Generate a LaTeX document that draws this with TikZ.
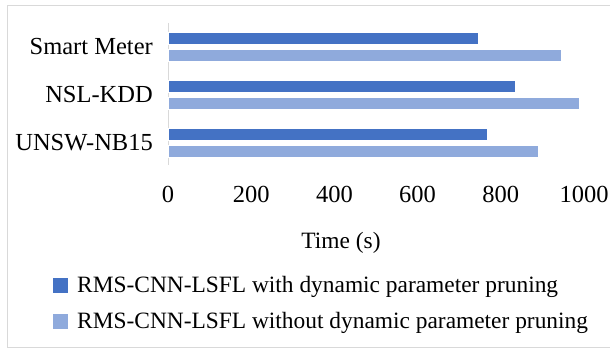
\documentclass[tikz,border=0pt]{standalone}
\usepackage{fontspec}
\setmainfont{Liberation Serif}
\definecolor{darkbar}{HTML}{4472C4}
\definecolor{lightbar}{HTML}{8FAADC}
\definecolor{framegray}{HTML}{D9D9D9}
\begin{document}
\begin{tikzpicture}[x=1pt,y=-1pt,
  lbl/.style={font=\fontsize{23.4}{27}\selectfont, inner sep=0pt},
  biglbl/.style={font=\fontsize{24.5}{28}\selectfont, inner sep=0pt},
  dbar/.style={fill=darkbar, draw=white, line width=0.6pt},
  lbar/.style={fill=lightbar, draw=white, line width=0.6pt}]
\useasboundingbox (0,0) rectangle (610,352);
\fill[white] (0,0) rectangle (610,352);
\draw[framegray, line width=1pt] (620,6) -- (7,6) -- (7,347) -- (620,347);
% axis
\draw[framegray, line width=1pt] (168,23) -- (168,165);
% bars (scale 0.416 px per unit)
\def\sc{0.416}
\foreach \yc/\dv/\lv in {46.5/745/945, 94.5/834/988, 142.5/767/889}{
  \path[dbar] (168,\yc-14.5) rectangle ({168+\dv*\sc},\yc-2.5);
  \path[lbar] (168,\yc+2.5) rectangle ({168+\lv*\sc},\yc+14.5);
}
% category labels
\node[biglbl, anchor=east] (c1) at (153,46.5) {Smart Meter};
\node[biglbl, anchor=east] (c2) at (153,94.5) {NSL-KDD};
\node[biglbl, anchor=east] (c3) at (153,142.5) {UNSW-NB15};
% ticks
\foreach \v in {0,200,400,600,800,1000}{
  \node[biglbl, anchor=base] (t\v) at ({168+\v*\sc},203) {\v};
}
\node[lbl, anchor=base] (xl) at (341,249) {Time (s)};
% legend
\fill[darkbar] (53,278) rectangle (68,293);
\fill[lightbar] (53,314) rectangle (68,329);
\node[lbl, anchor=base west] (l1) at (77,293) {RMS-CNN-LSFL with dynamic parameter pruning};
\node[lbl, anchor=base west] (l2) at (77,329) {RMS-CNN-LSFL without dynamic parameter pruning};
\end{tikzpicture}
\end{document}
